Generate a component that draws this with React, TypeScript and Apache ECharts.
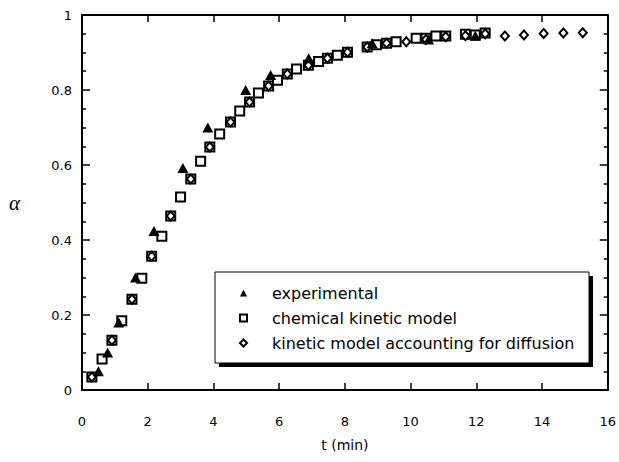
import React, { useEffect, useRef } from "react";
import * as echarts from "echarts";

const FONT = "DejaVu Sans";

// experimental (filled triangles)
const expT = [0.5, 0.78, 1.12, 1.63, 2.19, 3.07, 3.83, 4.98, 5.74, 6.9, 8.83, 10.55, 11.97];
const expA = [0.05, 0.1, 0.18, 0.3, 0.424, 0.592, 0.7, 0.8, 0.84, 0.885, 0.925, 0.935, 0.945];

// chemical kinetic model (open squares)
const chemT = [
  0.3, 0.61, 0.91, 1.21, 1.52, 1.82, 2.12, 2.43, 2.7, 3.0, 3.31, 3.61, 3.89, 4.19, 4.52, 4.8,
  5.1, 5.37, 5.68, 5.95, 6.25, 6.53, 6.89, 7.2, 7.47, 7.77, 8.08, 8.68, 8.96, 9.27, 9.56,
  10.17, 10.47, 10.77, 11.07, 11.67, 11.97, 12.27,
];
const chemA = [
  0.035, 0.083, 0.133, 0.185, 0.242, 0.298, 0.357, 0.41, 0.464, 0.515, 0.563, 0.61, 0.648,
  0.683, 0.715, 0.744, 0.768, 0.792, 0.811, 0.826, 0.843, 0.856, 0.866, 0.876, 0.885, 0.893,
  0.901, 0.915, 0.921, 0.925, 0.929, 0.938, 0.938, 0.944, 0.944, 0.949, 0.947, 0.952,
];

// kinetic model accounting for diffusion (open diamonds)
const diffT = [
  0.3, 0.91, 1.52, 2.12, 2.7, 3.31, 3.89, 4.52, 5.1, 5.68, 6.25, 6.89, 7.47, 8.08, 8.68,
  9.27, 9.87, 10.47, 11.07, 11.67, 12.27, 12.87, 13.45, 14.05, 14.65, 15.24,
];
const diffA = [
  0.035, 0.133, 0.242, 0.357, 0.464, 0.563, 0.648, 0.715, 0.768, 0.811, 0.843, 0.866, 0.885,
  0.901, 0.915, 0.925, 0.929, 0.935, 0.942, 0.945, 0.95, 0.944, 0.947, 0.951, 0.952, 0.953,
];

const seriesNames = [
  "experimental",
  "chemical kinetic model",
  "kinetic model accounting for diffusion",
];

const xTicks = { min: 0, max: 16, interval: 2 };
const yTicks = { min: 0, max: 1, interval: 0.2 };

const zip = (a: number[], b: number[]) => a.map((v, i) => [v, b[i]]);

export default function App() {
  const ref = useRef<HTMLDivElement>(null);
  useEffect(() => {
    if (!ref.current) return;
    const chart = echarts.init(ref.current, null, { renderer: "svg" });
    const axisLine = { show: true, onZero: false, lineStyle: { color: "#000", width: 2 } };
    const xCommon = {
      type: "value" as const,
      min: xTicks.min,
      max: xTicks.max,
      interval: xTicks.interval,
      axisLine,
      splitLine: { show: false },
      axisTick: { show: true, inside: true, length: 7, lineStyle: { color: "#000", width: 1.5 } },
    };
    const yCommon = {
      type: "value" as const,
      min: yTicks.min,
      max: yTicks.max,
      interval: yTicks.interval,
      axisLine,
      splitLine: { show: false },
      axisTick: { show: true, inside: true, length: 8, lineStyle: { color: "#000", width: 1.5 } },
      minorTick: { show: true, splitNumber: 4, length: 4, lineStyle: { color: "#000", width: 1.5 } },
      minorSplitLine: { show: false },
    };
    chart.setOption({
      animation: false,
      backgroundColor: "#fff",
      grid: { left: 82, right: 10, top: 15, bottom: 72, containLabel: false },
      xAxis: [
        {
          ...xCommon,
          position: "bottom",
          name: "t (min)",
          nameLocation: "middle",
          nameGap: 48,
          nameTextStyle: { fontFamily: FONT, fontSize: 14, color: "#000" },
          axisLabel: { margin: 25, fontFamily: FONT, fontSize: 13, color: "#000" },
        },
        { ...xCommon, position: "top", axisLabel: { show: false } },
      ],
      yAxis: [
        {
          ...yCommon,
          position: "left",
          name: "α",
          nameLocation: "middle",
          nameRotate: 0,
          nameGap: 62,
          nameTextStyle: {
            fontFamily: "Liberation Serif",
            fontStyle: "italic",
            fontSize: 21,
            color: "#000",
          },
          axisLabel: { margin: 10, fontFamily: FONT, fontSize: 13, color: "#000" },
        },
        { ...yCommon, position: "right", axisLabel: { show: false } },
      ],
      legend: {
        orient: "vertical",
        left: 234,
        top: 280,
        itemWidth: 7,
        itemHeight: 7,
        itemGap: 9,
        z: 20,
        data: seriesNames,
        textStyle: {
          fontFamily: FONT,
          fontSize: 16,
          color: "#000",
          lineHeight: 16,
          padding: [0, 0, 0, 20],
        },
      },
      graphic: [
        {
          type: "rect",
          z: 15,
          shape: { x: 219, y: 276, width: 374, height: 91 },
          style: { fill: "#000" },
        },
        {
          type: "rect",
          z: 16,
          shape: { x: 215, y: 272, width: 374, height: 91 },
          style: { fill: "#fff", stroke: "#000", lineWidth: 1 },
        },
      ],
      series: [
        {
          name: seriesNames[1],
          type: "scatter",
          symbol: "rect",
          symbolSize: 9,
          z: 2,
          itemStyle: { color: "#fff", borderColor: "#000", borderWidth: 2, opacity: 1 },
          data: zip(chemT, chemA),
        },
        {
          name: seriesNames[2],
          type: "scatter",
          symbol: "diamond",
          symbolSize: [8, 9],
          z: 3,
          itemStyle: { color: "#fff", borderColor: "#000", borderWidth: 2, opacity: 1 },
          data: zip(diffT, diffA),
        },
        {
          name: seriesNames[0],
          type: "scatter",
          symbol: "triangle",
          symbolSize: [11, 10],
          z: 4,
          itemStyle: { color: "#000", opacity: 1 },
          data: zip(expT, expA),
        },
      ],
    });
    return () => chart.dispose();
  }, []);
  return <div ref={ref} style={{ width: 619, height: 462, position: "absolute", left: 0, top: 0 }} />;
}
